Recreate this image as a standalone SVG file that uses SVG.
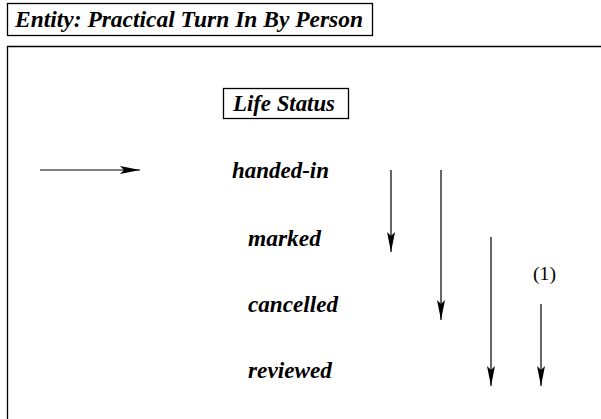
<svg xmlns="http://www.w3.org/2000/svg" width="601" height="419" viewBox="0 0 601 419">
  <style>
    .box { fill: #fff; stroke: #000; stroke-width: 1.3; }
    .lbl { font-family: "Liberation Serif", "Times New Roman", serif; font-weight: bold; font-style: italic; font-size: 23px; fill: #000; }
    .note { font-family: "Liberation Serif", "Times New Roman", serif; font-size: 19px; fill: #000; }
    .conn { stroke: #000; stroke-width: 1.2; fill: none; marker-end: url(#head); }
  </style>
  <defs>
    <marker id="head" viewBox="0 0 20 8" refX="20" refY="4" markerWidth="20" markerHeight="8" markerUnits="userSpaceOnUse" orient="auto">
      <path d="M0,0 L20,4 L0,8 L4,4 Z" fill="#000"/>
    </marker>
  </defs>
  <rect width="601" height="419" fill="#fff"/>

  <g id="entity-title">
    <rect class="box" x="7.5" y="3.5" width="365" height="32"/>
    <text class="lbl" x="15" y="27" textLength="348" lengthAdjust="spacingAndGlyphs">Entity: Practical Turn In By Person</text>
  </g>

  <g id="frame">
    <path d="M7.5,419 L7.5,46.5 L601,46.5" fill="none" stroke="#000" stroke-width="1.3"/>
  </g>

  <g id="life-status">
    <rect class="box" x="223.5" y="88.5" width="125" height="30"/>
    <text class="lbl" x="233" y="111" textLength="102" lengthAdjust="spacingAndGlyphs">Life Status</text>
  </g>

  <g id="state-handed-in"><text class="lbl" x="232" y="178" textLength="97" lengthAdjust="spacingAndGlyphs">handed-in</text></g>
  <g id="state-marked"><text class="lbl" x="248" y="246" textLength="73" lengthAdjust="spacingAndGlyphs">marked</text></g>
  <g id="state-cancelled"><text class="lbl" x="248" y="312" textLength="90" lengthAdjust="spacingAndGlyphs">cancelled</text></g>
  <g id="state-reviewed"><text class="lbl" x="248" y="378" textLength="84" lengthAdjust="spacingAndGlyphs">reviewed</text></g>
  <g id="note-1"><text class="note" x="533" y="280" textLength="23" lengthAdjust="spacingAndGlyphs">(1)</text></g>

  <g id="connectors">
    <line class="conn" x1="40" y1="170" x2="140" y2="170"/>
    <line class="conn" x1="391" y1="170" x2="391" y2="252"/>
    <line class="conn" x1="441" y1="170" x2="441" y2="320"/>
    <line class="conn" x1="491" y1="237" x2="491" y2="386"/>
    <line class="conn" x1="541" y1="304" x2="541" y2="386"/>
  </g>
</svg>
